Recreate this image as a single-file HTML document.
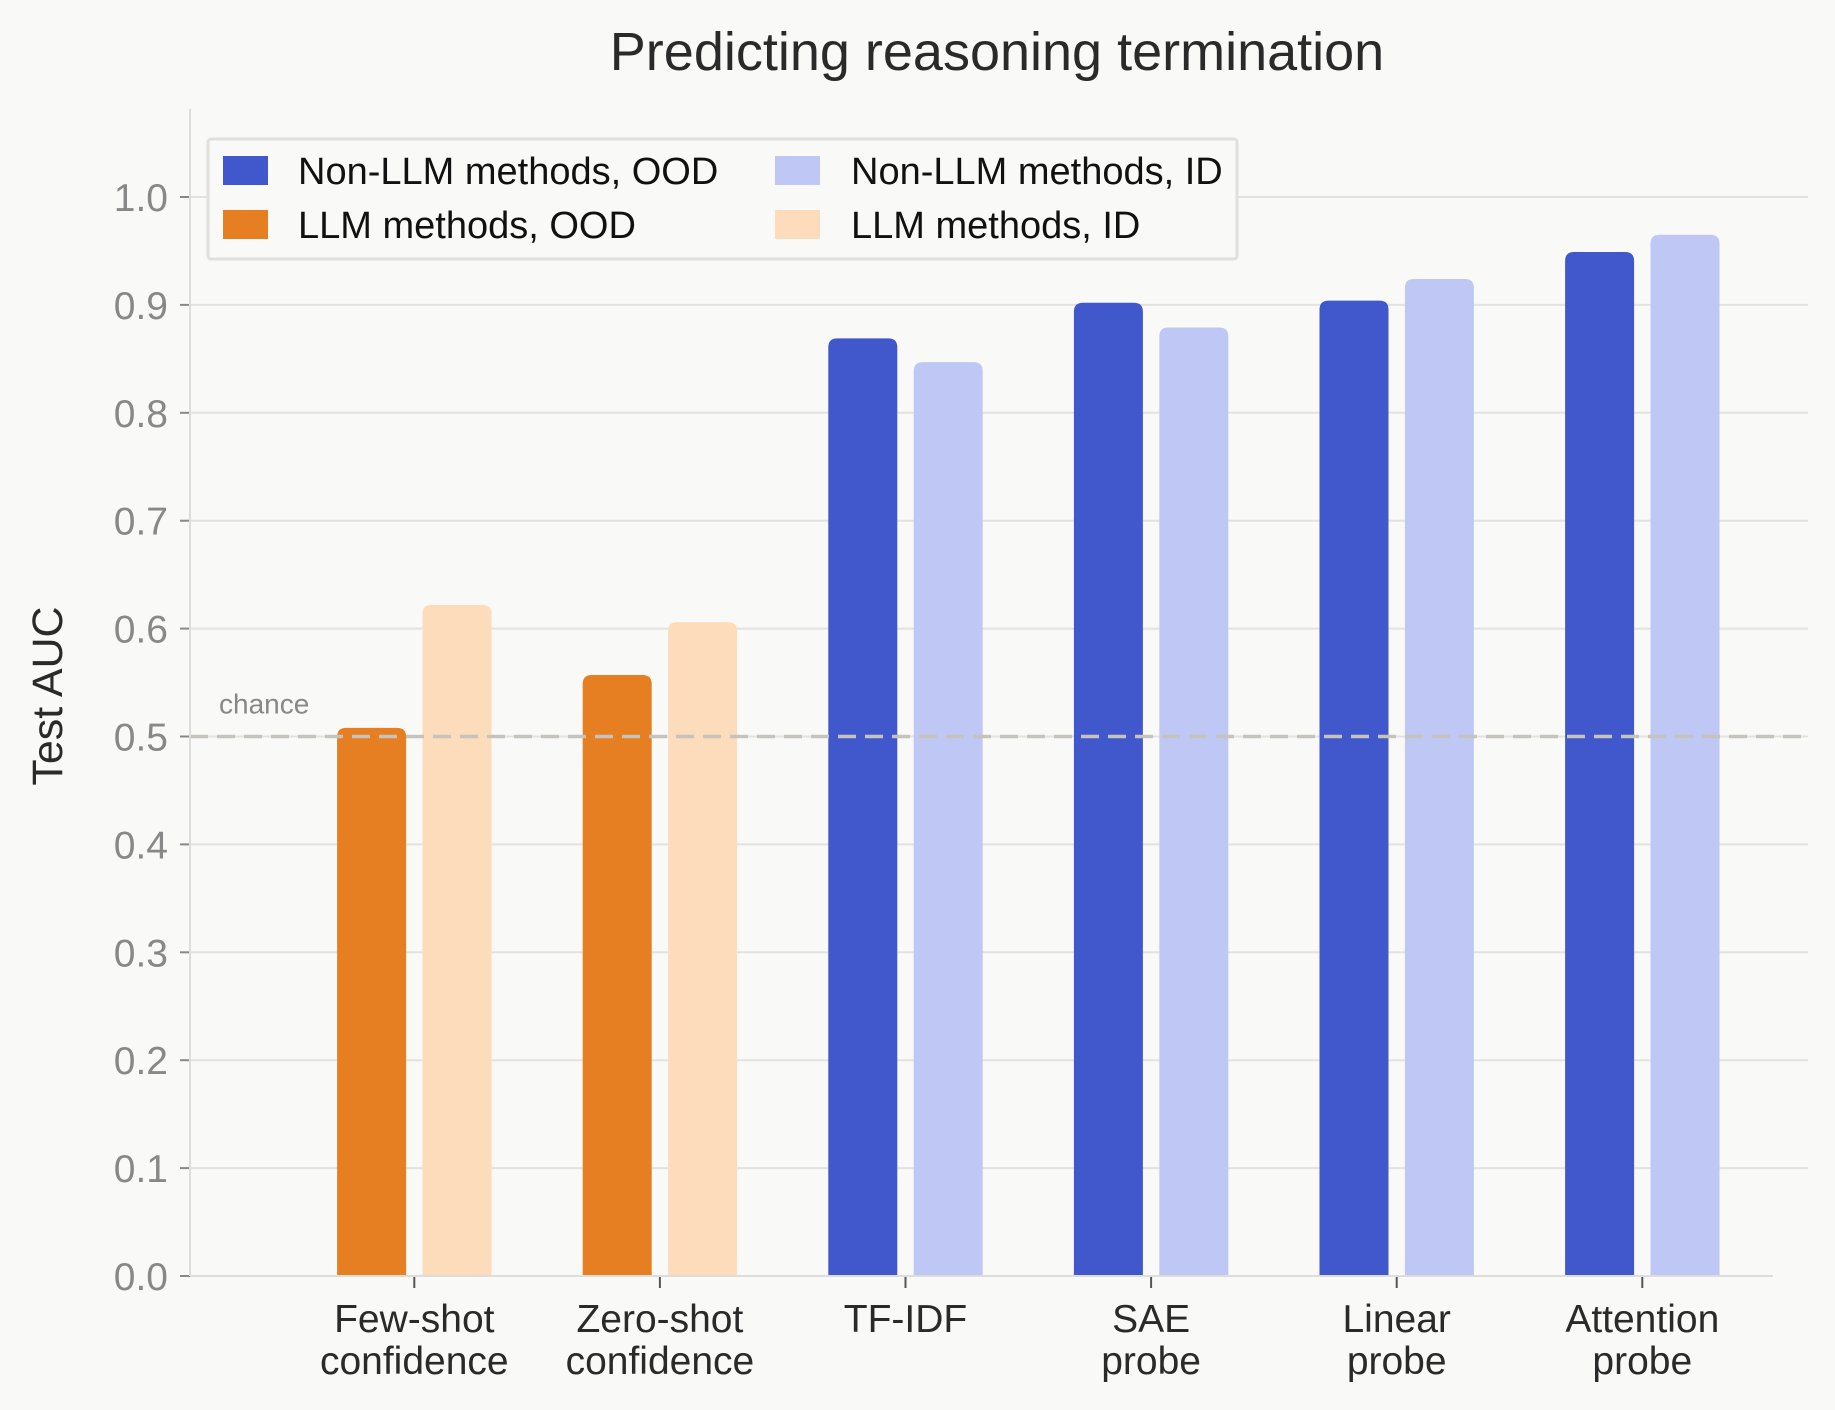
<!DOCTYPE html>
<html><head><meta charset="utf-8"><style>
html,body{margin:0;padding:0;background:#f9f9f7;}
svg{display:block;font-family:"Liberation Sans",sans-serif;}
</style></head><body>
<svg id="chart" width="1835" height="1410" viewBox="0 0 1835 1410" xmlns="http://www.w3.org/2000/svg">
<rect width="1835" height="1410" fill="#f9f9f7"/>
<text x="997" y="70" font-size="54" fill="#2a2a2a" text-anchor="middle">Predicting reasoning termination</text>
<text transform="translate(62,696) rotate(-90)" font-size="43" fill="#2a2a2a" text-anchor="middle">Test AUC</text>
<g id="grid"></g>
<g id="bars"></g>
<g id="axes"></g>
<g id="legend">
<rect x="208" y="139" width="1029" height="120" fill="#f9f9f7" stroke="#e0e0dc" stroke-width="3" rx="3"/>
<rect x="223" y="156" width="45" height="29" fill="#4158cc"/>
<text x="298" y="184" font-size="38" fill="#111">Non-LLM methods, OOD</text>
<rect x="223" y="210" width="45" height="29" fill="#e67e22"/>
<text x="298" y="238" font-size="38" fill="#111">LLM methods, OOD</text>
<rect x="775" y="156" width="45" height="29" fill="#bfc8f4"/>
<text x="851" y="184" font-size="38" fill="#111">Non-LLM methods, ID</text>
<rect x="775" y="210" width="45" height="29" fill="#fcdcbb"/>
<text x="851" y="238" font-size="38" fill="#111">LLM methods, ID</text>
</g>
</svg>
<script>
const categories1 = ["Few-shot","Zero-shot","TF-IDF","SAE","Linear","Attention"];
const categories2 = ["confidence","confidence","","probe","probe","probe"];
const oodValues = [0.508,0.557,0.869,0.902,0.904,0.949];
const idValues = [0.622,0.606,0.847,0.879,0.924,0.965];
const isLLM = [true,true,false,false,false,false];
const yTicks = [0,0.1,0.2,0.3,0.4,0.5,0.6,0.7,0.8,0.9,1.0];
const chanceLevel = 0.5;

const NS="http://www.w3.org/2000/svg";
const X0=190, X1=1808, Y0=1276, Y1=197;
function yScale(v){return Y0+(Y1-Y0)*v;}
function xScale(i){return 414.3+245.6*i;}
function mk(tag,attrs,parent){const e=document.createElementNS(NS,tag);for(const k in attrs)e.setAttribute(k,attrs[k]);parent.appendChild(e);return e;}
const grid=document.getElementById('grid'),bars=document.getElementById('bars'),axes=document.getElementById('axes');
yTicks.forEach(t=>{
  const y=yScale(t);
  if(t>0){const g=mk('line',{x1:X0,x2:X1,y1:y,y2:y,stroke:'#e2e2e0','stroke-width':2},grid);
  
  }
  const tk=mk('line',{x1:X0-10,x2:X0,y1:y,y2:y,stroke:'#888','stroke-width':2},axes);
  
  
  const lb=mk('text',{x:X0-22,y:y+14,'font-size':39,fill:'#888','text-anchor':'end'},axes);
  lb.textContent=t.toFixed(1);
  
  
});
function bar(cx,v,color){
  const w=69,r=9,x=cx-w/2,y=yScale(v),b=Y0;
  const d=`M${x},${b}L${x},${y+r}Q${x},${y} ${x+r},${y}L${x+w-r},${y}Q${x+w},${y} ${x+w},${y+r}L${x+w},${b}Z`;
  return mk('path',{d:d,fill:color},bars);
}
categories1.forEach((c,i)=>{
  const cx=xScale(i);
  const a=bar(cx-42.7,oodValues[i],isLLM[i]?'#e67e22':'#4158cc');
  
  
  const b=bar(cx+42.7,idValues[i],isLLM[i]?'#fcdcbb':'#bfc8f4');
  
  
  const tk=mk('line',{x1:cx,x2:cx,y1:Y0,y2:Y0+12,stroke:'#555','stroke-width':2},axes);
  
  
  const t1=mk('text',{x:cx,y:1332,'font-size':39,fill:'#2a2a2a','text-anchor':'middle'},axes);
  t1.textContent=c;
  
  
  if(categories2[i]){const t2=mk('text',{x:cx,y:1374,'font-size':39,fill:'#2a2a2a','text-anchor':'middle'},axes);
  t2.textContent=categories2[i];
  
  }
});
const cy=yScale(chanceLevel);
const cl=mk('line',{x1:X0,x2:X1,y1:cy,y2:cy,stroke:'#c6c3bc','stroke-width':3.5,'stroke-dasharray':'18,9'},axes);


const ct=mk('text',{x:219,y:cy-23,'font-size':28,fill:'#888'},axes);
ct.textContent='chance';


const ls=mk('line',{x1:X0,x2:X0,y1:109,y2:Y0,stroke:'#ddd','stroke-width':2},axes);


const bs=mk('line',{x1:X0,x2:1773,y1:Y0,y2:Y0,stroke:'#ddd','stroke-width':2},axes);


</script>
</body></html>
